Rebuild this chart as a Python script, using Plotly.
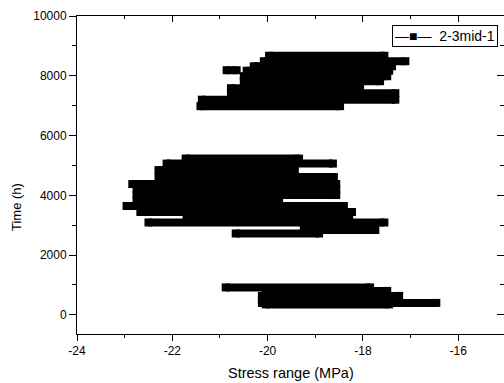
import plotly.graph_objects as go

series_name = "2-3mid-1"

# Each horizontal run of the recorded series: time (h), stress range at start and end (MPa)
time_h = [8670, 8486, 8319, 8186, 8169, 7985, 7818, 7584, 7417, 7200, 6983,
          5229, 5062, 4845, 4611, 4377, 4176, 4009, 3842, 3642, 3441, 3308, 3091, 2840, 2723,
          919, 802, 635, 501, 401, 351]
stress_from = [-19.97, -20.08, -20.29, -20.86, -20.44, -20.50, -20.50, -20.77, -20.77, -21.38, -21.41,
               -21.72, -22.12, -22.29, -22.29, -22.84, -22.75, -22.75, -22.75, -22.96, -22.67, -21.70, -22.50, -19.24, -20.67,
               -20.88, -20.04, -20.12, -20.12, -20.12, -20.04]
stress_to = [-17.55, -17.11, -17.39, -20.65, -17.45, -17.49, -17.64, -18.06, -17.32, -17.32, -18.48,
             -19.34, -18.63, -19.43, -18.61, -18.56, -18.56, -18.56, -19.76, -18.40, -18.23, -18.29, -17.55, -17.74, -18.92,
             -17.85, -17.49, -17.24, -17.43, -16.46, -17.45]

x_ticks = [-24, -22, -20, -18, -16]
x_tick_labels = ["-24", "-22", "-20", "-18", "-16"]
x_minor = [-23, -21, -19, -17, -15]
y_ticks = [0, 2000, 4000, 6000, 8000, 10000]
y_tick_labels = ["0", "2000", "4000", "6000", "8000", "10000"]
y_minor = [1000, 3000, 5000, 7000, 9000]
x_range = [-24, -15.04]
y_range = [-640, 10000]

FONT = "Liberation Sans, Arial, sans-serif"

xs, ys = [], []
for t, a, b in zip(time_h, stress_from, stress_to):
    xs += [a, b, None]
    ys += [t, t, None]

fig = go.Figure()
fig.add_trace(go.Scatter(
    x=xs, y=ys, mode="lines+markers", name=series_name, showlegend=False,
    line=dict(color="black", width=8),
    marker=dict(symbol="square", size=8, color="black"),
    connectgaps=False,
))
# invisible trace to bind the mirrored (top/right) axes
fig.add_trace(go.Scatter(x=[None], y=[None], mode="lines", showlegend=False,
                         hoverinfo="skip", xaxis="x2", yaxis="y2"))

tickfont = dict(family=FONT, size=12, color="black")
common = dict(showgrid=False, zeroline=False, showline=True, linecolor="black",
              linewidth=1, tickcolor="black", tickwidth=1)

fig.update_layout(
    width=504, height=383,
    margin=dict(l=77, r=0, t=16, b=49, autoexpand=False),
    paper_bgcolor="white", plot_bgcolor="white",
    showlegend=False,
    xaxis=dict(range=x_range, tickmode="array", tickvals=x_ticks, ticktext=x_tick_labels,
               ticks="outside", ticklen=6, tickfont=tickfont,
               minor=dict(tickmode="array", tickvals=x_minor, ticks="outside", ticklen=3,
                          tickcolor="black"),
               **common),
    yaxis=dict(range=y_range, tickmode="array", tickvals=y_ticks, ticktext=y_tick_labels,
               ticks="outside", ticklen=7, tickfont=tickfont,
               minor=dict(tickmode="array", tickvals=y_minor, ticks="outside", ticklen=4,
                          tickcolor="black"),
               **common),
    xaxis2=dict(range=x_range, overlaying="x", side="top", anchor="y2", tickmode="array",
                tickvals=x_ticks, ticks="inside", ticklen=6, showticklabels=False,
                minor=dict(tickmode="array", tickvals=x_minor, ticks="inside", ticklen=3,
                           tickcolor="black"),
                **common),
    yaxis2=dict(range=y_range, overlaying="y", side="right", anchor="x2", tickmode="array",
                tickvals=y_ticks, ticks="inside", ticklen=7, showticklabels=False,
                minor=dict(tickmode="array", tickvals=y_minor, ticks="inside", ticklen=4,
                           tickcolor="black"),
                **common),
    annotations=[
        # legend box
        dict(text="—■—\u00a0\u00a0" + series_name, xref="paper", yref="paper",
             x=0.986, y=0.937, xanchor="right", yanchor="middle", showarrow=False,
             bordercolor="black", borderwidth=1, borderpad=2, bgcolor="white",
             font=dict(family=FONT, size=14, color="black")),
        dict(text="Stress range (MPa)", xref="paper", yref="paper", x=0.5, y=-0.1226,
             xanchor="center", yanchor="middle", showarrow=False,
             font=dict(family=FONT, size=14.5, color="black")),
        dict(text="Time (h)", xref="paper", yref="paper", x=-0.140, y=0.40,
             xanchor="center", yanchor="middle", textangle=-90, showarrow=False,
             font=dict(family=FONT, size=13, color="black")),
    ],
)

fig.write_html("out.html", config={"displayModeBar": False},
               post_script="document.body.style.margin='0px';")
